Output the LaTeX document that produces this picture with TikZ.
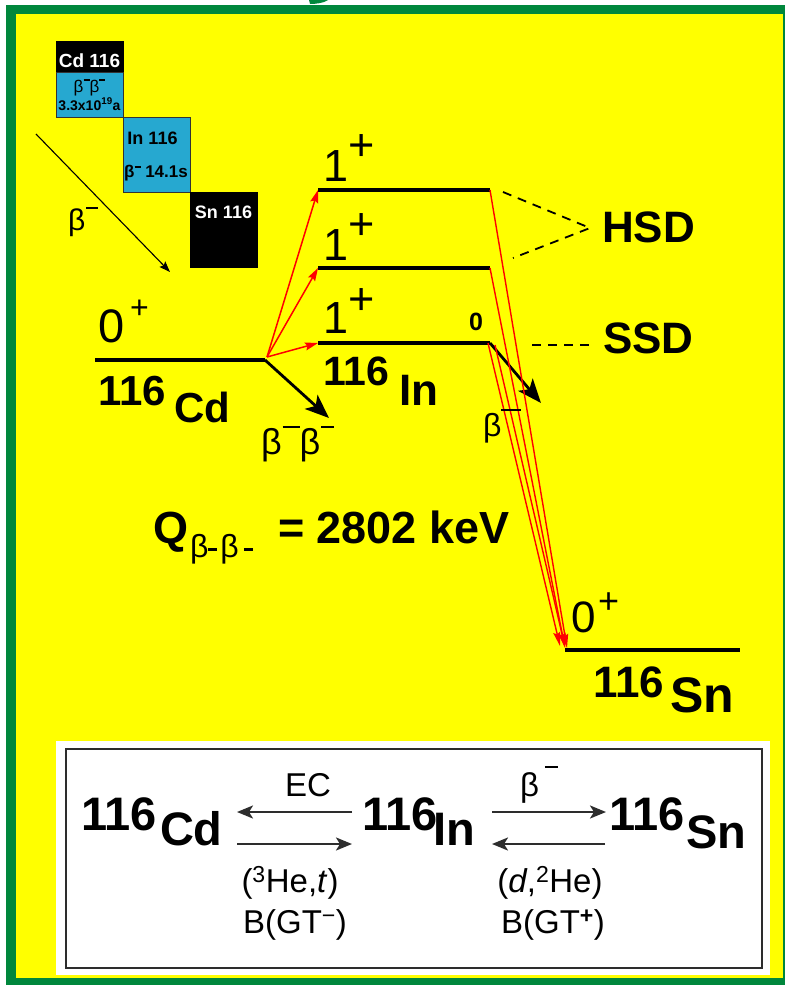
\documentclass[tikz,border=0pt]{standalone}
\usepackage{fontspec}
\setmainfont{Liberation Sans}
\usetikzlibrary{arrows.meta}
\definecolor{frameGreen}{RGB}{0,135,60}
\definecolor{bgYellow}{RGB}{255,255,0}
\definecolor{chartBlue}{RGB}{38,168,208}
\definecolor{boxGray}{RGB}{45,45,45}
\newcommand\fz[1]{\fontsize{#1}{#1}\selectfont}
\newcommand\mrule[2]{\rule[#1]{#2}{1.6pt}}
\begin{document}
\begin{tikzpicture}[x=1pt,y=-1pt,
  lbl/.style={anchor=base west,inner sep=0pt,outer sep=0pt},
  clbl/.style={anchor=base,inner sep=0pt,outer sep=0pt},
  level/.style={line width=4pt,black},
  redarr/.style={red,line width=1.5pt,-{Stealth[length=13pt,width=8pt,inset=2pt]}},
  redln/.style={red,line width=1.4pt,-{Stealth[length=14pt,width=7pt,inset=2pt]}},
  bigarr/.style={black,line width=2.8pt,-{Stealth[length=24pt,width=19pt,inset=6pt]}},
  dashln/.style={black,line width=1.8pt,dash pattern=on 9pt off 7pt},
  boxarr/.style={boxGray,line width=2.4pt,-{Stealth[length=16pt,width=13pt,inset=4pt]}},
  thinarr/.style={black,line width=1.1pt,-{Stealth[length=11pt,width=8pt,inset=2pt]}}
]
\useasboundingbox (0,0) rectangle (785,985);
% frame
\fill[white] (0,0) rectangle (785,985);
\fill[frameGreen] (6,5) rectangle (785,985);
\fill[bgYellow] (16,14) rectangle (783,978);
\fill[frameGreen] (309,0) -- (328,0) .. controls (324,3) and (316,4) .. (310,4) -- cycle;

% nuclide chart
\filldraw[fill=black,draw=black,line width=0.8pt] (56,41) rectangle (123,72);
\filldraw[fill=chartBlue,draw=black!80,line width=0.8pt] (56,72) rectangle (123,117);
\filldraw[fill=chartBlue,draw=black!80,line width=0.8pt] (123,117) rectangle (190,192);
\filldraw[fill=black,draw=black,line width=0.8pt] (190,192) rectangle (257,267);
\node[clbl,text=white] (tcd) at (89.5,67) {\fz{19}\bfseries Cd 116};
\node[clbl] (tbb) at (89.5,92) {\fz{17}β\mrule{11pt}{6pt}β\mrule{11pt}{6pt}};
\node[clbl] (thl) at (89.5,110) {\fz{14}\bfseries 3.3x10\textsuperscript{19}a};
\node[clbl] (tin) at (152.5,144) {\fz{18}\bfseries In 116};
\node[clbl] (tinhl) at (156,177) {\fz{17}\bfseries β\mrule{9pt}{6pt} 14.1s};
\node[clbl,text=white] (tsn) at (223.5,218) {\fz{18}\bfseries Sn 116};
\coordinate (chA) at (36,134);
\coordinate (chB) at (170,272);
\draw[thinarr] (chA) -- (chB);
\node[lbl] (chbeta) at (68,230) {\fz{30}β\hspace{1pt}\mrule{21pt}{12pt}};

% level end points
\coordinate (cdL) at (95,360);  \coordinate (cdR) at (265,360);
\coordinate (cdSrc) at (267,357);
\coordinate (in1L) at (318,343); \coordinate (in1R) at (490,343);
\coordinate (in2L) at (318,268); \coordinate (in2R) at (490,268);
\coordinate (in3L) at (318,190); \coordinate (in3R) at (490,190);
\coordinate (snL) at (565,650);  \coordinate (snR) at (740,650);

% levels
\draw[level] (cdL) -- (cdR);
\draw[level] (in1L) -- (in1R);
\draw[level] (in2L) -- (in2R);
\draw[level] (in3L) -- (in3R);
\draw[level] (snL) -- (snR);

% black decay arrows
\coordinate (bbEnd) at (329,418);
\coordinate (bEnd) at (541,403);
\draw[bigarr] (cdR) -- (bbEnd);
\draw[bigarr] (in1R) -- (bEnd);

% red arrows from Cd
\draw[redarr] (cdSrc) -- (in1L);
\draw[redarr] (cdSrc) -- (in2L);
\draw[redarr] (cdSrc) -- (in3L);

% red lines to Sn
\coordinate (r1s) at (488,343); \coordinate (r1e) at (560,646);
\coordinate (r2s) at (495,345); \coordinate (r2e) at (565,647);
\coordinate (r3e) at (565,648);
\coordinate (r4e) at (567,648);
\draw[redln] (r1s) -- (r1e);
\draw[redln] (r2s) -- (r2e);
\draw[redln] (in2R) -- (r3e);
\draw[redln] (in3R) -- (r4e);

% dashed HSD / SSD
\coordinate (hA) at (503,192); \coordinate (hV) at (590,228); \coordinate (hB) at (513,258);
\draw[dashln] (hA) -- (hV) -- (hB);
\coordinate (sA) at (532,345); \coordinate (sB) at (594,345);
\draw[dashln] (sA) -- (sB);
\node[lbl] (hsd) at (602,242) {\fz{44}\bfseries HSD};
\node[lbl] (ssd) at (603,353) {\fz{44}\bfseries SSD};

% spin labels
\node[lbl] (cd0) at (98,342) {\fz{47}0};
\node[lbl] (cdp) at (130,318) {\fz{32}+};
\node[lbl] (j1) at (323,333) {\fz{45}1};
\node[lbl] (p1) at (348,314) {\fz{45}+};
\node[lbl] (j2) at (323,260) {\fz{45}1};
\node[lbl] (p2) at (348,239) {\fz{45}+};
\node[lbl] (j3) at (323,181) {\fz{45}1};
\node[lbl] (p3) at (348,160) {\fz{45}+};
\node[lbl] (zero) at (469,330) {\fz{25}\bfseries 0};
\node[lbl] (sn0) at (571,632) {\fz{44}0};
\node[lbl] (snp) at (598,613) {\fz{36}+};

% nuclide labels
\node[lbl] (cdA) at (98,405) {\fz{42}\bfseries 116};
\node[lbl] (cdS) at (174,422) {\fz{42}\bfseries Cd};
\node[lbl] (inA) at (323,385) {\fz{41}\bfseries 116};
\node[lbl] (inS) at (399,405) {\fz{44}\bfseries In};
\node[lbl] (snA) at (593,697) {\fz{44}\bfseries 116};
\node[lbl] (snS) at (670,712) {\fz{50}\bfseries Sn};

% decay labels
\node[lbl] (bbl) at (261,454) {\fz{36}β\hspace{1pt}\mrule{26pt}{17pt}β\hspace{1pt}\mrule{26pt}{13pt}};
\node[lbl] (bl) at (483,436) {\fz{32}β\mrule{25pt}{20pt}};

% Q value
\node[lbl] (qQ) at (153,543) {\fz{45}\bfseries Q};
\node[lbl] (qsub) at (190,557) {\fz{32}β\rule[6pt]{9pt}{3pt}\hspace{3pt}β\hspace{5pt}\rule[6pt]{9pt}{3pt}};
\node[lbl] (qval) at (278,543) {\fz{45}\bfseries = 2802 keV};

% bottom box
\fill[white] (56,741) rectangle (770,975);
\draw[boxGray,line width=2pt] (66,749) rectangle (762,968);
\node[lbl] (bcdA) at (81,830) {\fz{47}\bfseries 116};
\node[lbl] (bcdS) at (160,845) {\fz{47}\bfseries Cd};
\node[lbl] (binA) at (362,830) {\fz{47}\bfseries 116};
\node[lbl] (binS) at (433,845) {\fz{47}\bfseries In};
\node[lbl] (bsnA) at (609,830) {\fz{47}\bfseries 116};
\node[lbl] (bsnS) at (686,848) {\fz{47}\bfseries Sn};
\coordinate (ecR) at (352,812); \coordinate (ecL) at (237,812);
\coordinate (heL) at (237,844); \coordinate (heR) at (352,844);
\coordinate (bmL) at (492,812); \coordinate (bmR) at (606,812);
\coordinate (dhR) at (605,844); \coordinate (dhL) at (492,844);
\draw[boxarr] (ecR) -- (ecL);
\draw[boxarr] (heL) -- (heR);
\draw[boxarr] (bmL) -- (bmR);
\draw[boxarr] (dhR) -- (dhL);
\node[clbl] (ec) at (308,796) {\fz{33}EC};
\node[lbl] (bm) at (520,796) {\fz{33}β\hspace{6pt}\mrule{28pt}{13pt}};
\node[clbl] (he3) at (290,892) {\fz{33}(\textsuperscript{3}He,\textit{t})};
\node[clbl] (gtm) at (295,933) {\fz{33}B(GT\textsuperscript{−})};
\node[clbl] (d2he) at (550,892) {\fz{33}(\textit{d},\textsuperscript{2}He)};
\node[clbl] (gtp) at (553,933) {\fz{33}B(GT\textsuperscript{\textbf{+}})};
\end{tikzpicture}
\end{document}
